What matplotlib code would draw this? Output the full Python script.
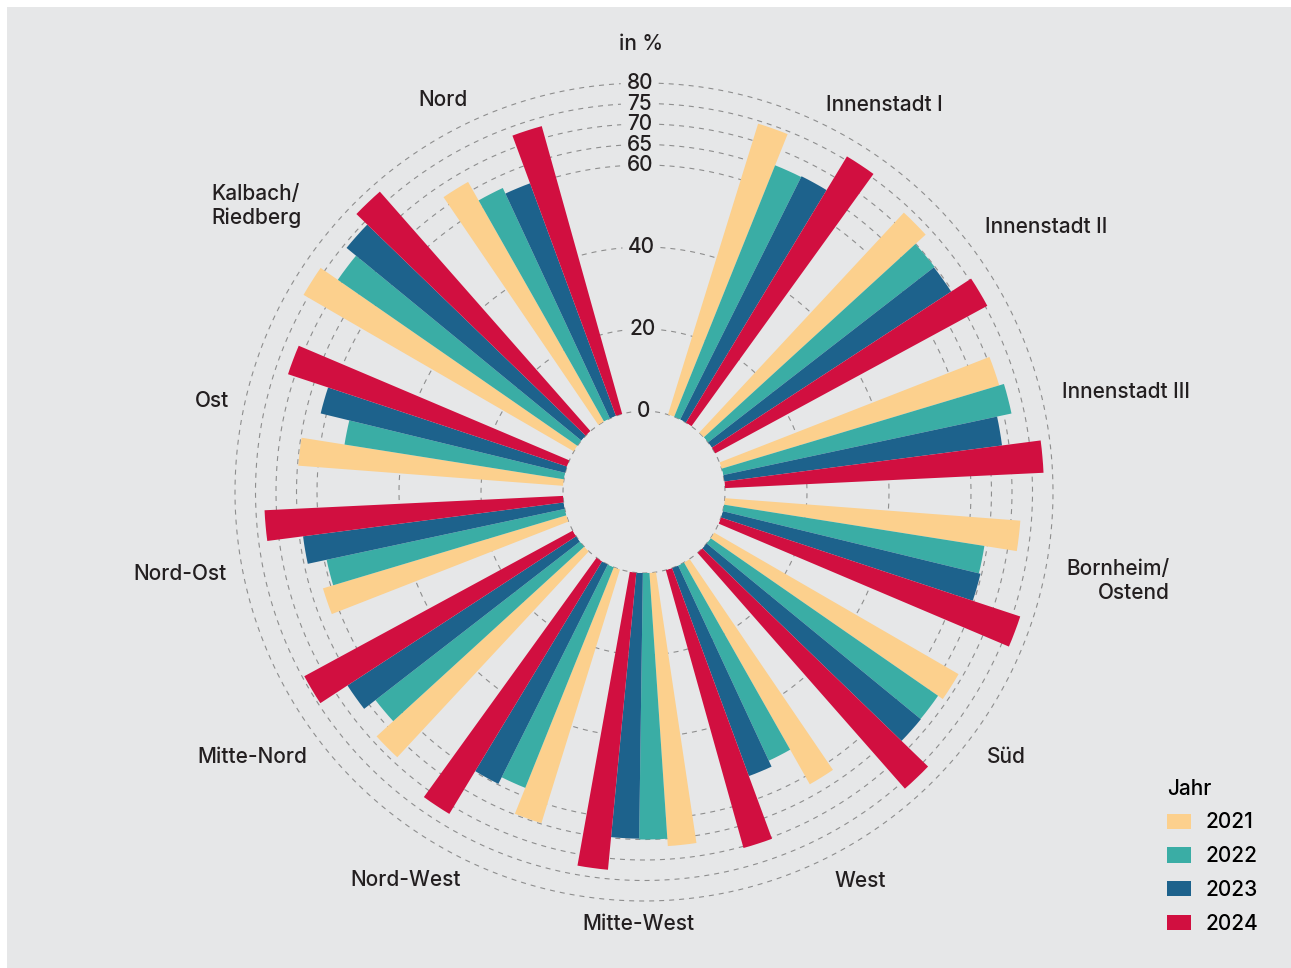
import numpy as np
import matplotlib
matplotlib.use("Agg")
import matplotlib.pyplot as plt

# ─────────────────────────────────────────────
# DATA  (values in %)
# ─────────────────────────────────────────────
districts = ["Innenstadt I", "Innenstadt II", "Innenstadt III", "Bornheim/\nOstend",
             "Süd", "West", "Mitte-West", "Nord-West", "Mitte-Nord", "Nord-Ost",
             "Ost", "Kalbach/\nRiedberg", "Nord"]
years = ["2021", "2022", "2023", "2024"]
v2021 = [74.3, 73.3, 70.7, 72.3, 68.9, 62.2, 66.8, 64.8, 68.6, 62.0, 64.8, 76.2, 67.2]
v2022 = [66.1, 69.9, 71.9, 64.3, 67.5, 52.5, 65.0, 58.0, 63.1, 59.4, 54.2, 71.1, 62.0]
v2023 = [66.3, 69.7, 68.3, 64.7, 67.6, 54.1, 64.8, 59.8, 66.6, 64.1, 61.4, 74.1, 60.5]
v2024 = [75.9, 75.5, 77.8, 76.9, 76.6, 70.4, 72.8, 72.0, 74.5, 72.9, 71.7, 77.8, 72.9]
r_ticks = [0, 20, 40, 60, 65, 70, 75, 80]

# ─────────────────────────────────────────────
# LAYOUT / STYLE
# ─────────────────────────────────────────────
W, H = 1291, 968
CX, CY = 644, 492          # centre of the wheel (px)
R_OUT, R_IN = 409, 81      # px radius of the 80 ring and of the hole
BG = "#E6E7E8"
INK = "#231F20"
GRID = "#8E8E8E"
COLORS = ["#FCD08D", "#3AADA5", "#1D628C", "#D10F40"]
FS = 15
ROT = 0.8                  # wheel is turned slightly clockwise (deg)

# label anchor points in px (x, y from top), ha
label_pos = [(884, 105, "center"), (1046, 227, "center"), (1126, 392, "center"),
             (1170, 581, "right"), (1006, 757, "center"), (860, 881, "center"),
             (638, 924, "center"), (406, 880, "center"), (252, 757, "center"),
             (180, 574, "center"), (212, 401, "center"), (211, 206, "left"),
             (443, 100, "center")]

plt.rcParams["font.family"] = ["Inter", "DejaVu Sans"]


def fx(x):
    return x / W


def fy(y):
    return 1 - y / H


fig = plt.figure(figsize=(W / 100, H / 100), dpi=100, facecolor="white")
fig.patches.append(plt.Rectangle((7 / W, 0), 1, 1 - 7 / H, transform=fig.transFigure,
                                 facecolor=BG, edgecolor="none", zorder=-10))

ax = fig.add_axes([(CX - R_OUT) / W, (H - CY - R_OUT) / H, 2 * R_OUT / W, 2 * R_OUT / H],
                  projection="polar")
ax.set_facecolor("none")
ax.set_theta_zero_location("N", offset=-ROT)
ax.set_theta_direction(-1)
ax.set_ylim(0, 80)
ax.set_rorigin(-80 * R_IN / (R_OUT - R_IN))
ax.axis("off")

# ── grid rings (broken at the top for the labels) + radial labels ──
top = np.deg2rad(-ROT - 0.6)
for t in r_ticks:
    r_px = R_IN + t * (R_OUT - R_IN) / 80
    half = (12 if t == 0 else 19) / r_px
    ring = np.linspace(top + half, top + 2 * np.pi - half, 600)
    ax.plot(ring, np.full_like(ring, t), ls=(0, (4.5, 4.5)), color=GRID, lw=0.8,
            zorder=1, clip_on=False)
    ax.text(top, t, str(t), ha="center", va="center", fontsize=FS,
            color=INK, zorder=5, fontweight="medium")
fig.text(fx(641), fy(44), "in %", ha="center", va="center", fontsize=FS, color=INK,
         fontweight="medium")

# ── bars ─────────────────────────────────
slot = 2 * np.pi / 14            # 13 districts + one empty slot at the top
bw = np.deg2rad(4.65)
theta = np.arange(1, 14) * slot
handles = []
for j, vals in enumerate([v2021, v2022, v2023, v2024]):
    b = ax.bar(theta + (j - 1.5) * bw, vals, width=bw, bottom=0, color=COLORS[j],
               linewidth=0, zorder=3, label=years[j])
    handles.append(b)

# ── district labels ───────────────────────
for name, (x, y, ha) in zip(districts, label_pos):
    fig.text(fx(x), fy(y), name, ha=ha, va="center", multialignment=ha,
             fontsize=FS, color=INK, fontweight="medium", linespacing=1.25)

# ── legend ───────────────────────────────
leg = fig.legend(handles, years, title="Jahr", loc="upper left",
                 bbox_to_anchor=(fx(1150), fy(762)), frameon=False, fontsize=FS,
                 title_fontsize=FS, handlelength=1.15, handleheight=0.75,
                 handletextpad=0.7, labelspacing=0.66, alignment="left", borderpad=0.3)
leg.get_title().set_fontweight("medium")
for t in leg.get_texts():
    t.set_fontweight("medium")

fig.savefig("out.png", dpi=100, facecolor=fig.get_facecolor())
